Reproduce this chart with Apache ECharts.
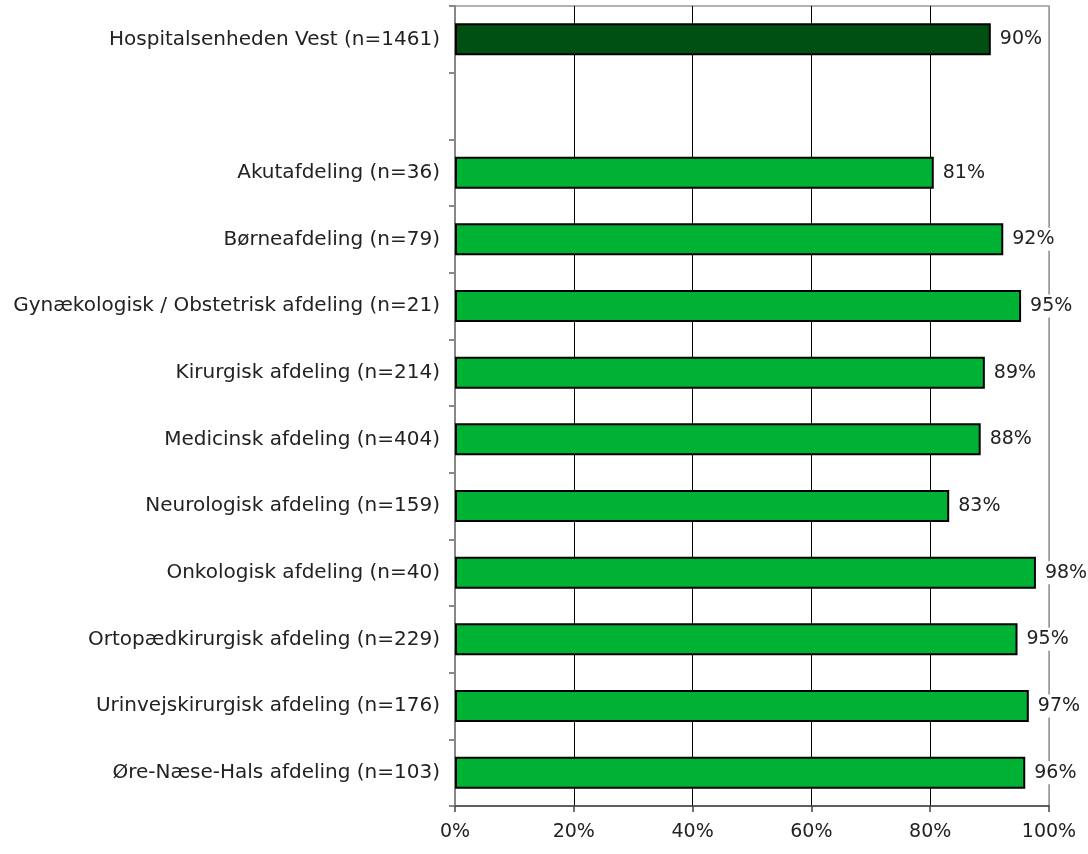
<!DOCTYPE html>
<html>
<head>
<meta charset="utf-8">
<script src="https://cdn.jsdelivr.net/npm/echarts@6/dist/echarts.min.js"></script>
<style>
  html, body { margin: 0; padding: 0; background: #fff; }
  #chart { width: 1088px; height: 854px; }
</style>
</head>
<body>
<div id="chart"></div>
<script>
// afdelinger, tom plads efter hospitalsenheden
const categories = [
  'Hospitalsenheden Vest (n=1461)',
  '',
  'Akutafdeling (n=36)',
  'Børneafdeling (n=79)',
  'Gynækologisk / Obstetrisk afdeling (n=21)',
  'Kirurgisk afdeling (n=214)',
  'Medicinsk afdeling (n=404)',
  'Neurologisk afdeling (n=159)',
  'Onkologisk afdeling (n=40)',
  'Ortopædkirurgisk afdeling (n=229)',
  'Urinvejskirurgisk afdeling (n=176)',
  'Øre-Næse-Hals afdeling (n=103)'
]
const values = [90.2, null, 80.6, 92.3, 95.3, 89.2, 88.5, 83.2, 97.8, 94.7, 96.6, 96.0]
const labels = ['90%', '', '81%', '92%', '95%', '89%', '88%', '83%', '98%', '95%', '97%', '96%']
const xTicks = [0, 20, 40, 60, 80, 100]

const darkGreen = '#004f13'
const green = '#00b233'
const font = 'DejaVu Sans'

const seriesData = values.map((v, i) => {
  if (v === null) return '-'
  return {
    value: v,
    itemStyle: { color: i === 0 ? darkGreen : green }
  }
})

const options = {
  animation: false,
  textStyle: { fontFamily: font },
  grid: {
    left: 455,
    right: 39,
    top: 6,
    bottom: 48,
    show: true,
    borderColor: '#999',
    borderWidth: 1.5,
    containLabel: false
  },
  xAxis: {
    type: 'value',
    min: 0,
    max: 100,
    interval: 20,
    axisLine: { show: true, lineStyle: { color: '#444', width: 1.5 } },
    axisTick: { show: true, length: 6, lineStyle: { color: '#444', width: 1.5 } },
    axisLabel: {
      color: '#222',
      fontFamily: font,
      fontSize: 19,
      margin: 17,
      formatter: (v) => (xTicks.includes(v) ? v + '%' : '')
    },
    splitLine: {
      show: true,
      lineStyle: { color: ['#999', '#000', '#000', '#000', '#000', '#999'], width: 1 }
    }
  },
  yAxis: {
    type: 'category',
    inverse: true,
    data: categories,
    axisLine: { show: true, lineStyle: { color: '#888', width: 2 } },
    axisTick: { show: true, length: 6, lineStyle: { color: '#888', width: 2 } },
    axisLabel: { color: '#222', fontFamily: font, fontSize: 20, margin: 15 },
    splitLine: { show: false }
  },
  series: [
    {
      type: 'bar',
      data: seriesData,
      barWidth: 32,
      itemStyle: { borderColor: '#000', borderWidth: 2 },
      label: {
        show: true,
        position: 'right',
        distance: 7,
        color: '#222',
        fontFamily: font,
        fontSize: 19,
        backgroundColor: '#fff',
        padding: [2, 2],
        formatter: (p) => labels[p.dataIndex]
      }
    }
  ]
}

const chart = echarts.init(document.getElementById('chart'))
chart.setOption(options)
</script>
</body>
</html>
